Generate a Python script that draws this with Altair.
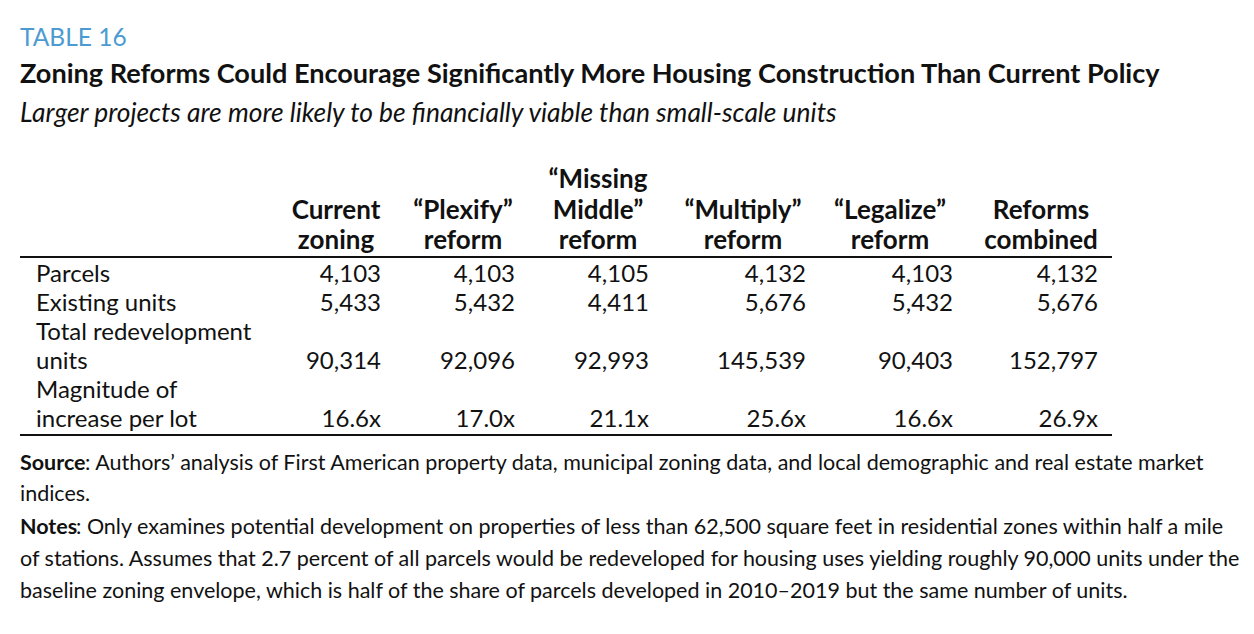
import altair as alt
import pandas as pd

# ---------------- data ----------------
col_headers = [
    ["Current", "zoning"],
    ["“Plexify”", "reform"],
    ["“Missing", "Middle”", "reform"],
    ["“Multiply”", "reform"],
    ["“Legalize”", "reform"],
    ["Reforms", "combined"],
]
row_labels = [
    ["Parcels"],
    ["Existing units"],
    ["Total redevelopment", "units"],
    ["Magnitude of", "increase per lot"],
]
parcels = [4103, 4103, 4105, 4132, 4103, 4132]
existing_units = [5433, 5432, 4411, 5676, 5432, 5676]
total_redevelopment = [90314, 92096, 92993, 145539, 90403, 152797]
magnitude = [16.6, 17.0, 21.1, 25.6, 16.6, 26.9]

table_label = "TABLE 16"
title = "Zoning Reforms Could Encourage Significantly More Housing Construction Than Current Policy"
subtitle = "Larger projects are more likely to be financially viable than small-scale units"
source_head = "Source"
source_lines = [
    ": Authors’ analysis of First American property data, municipal zoning data, and local demographic and real estate market",
    "indices.",
]
notes_head = "Notes"
notes_lines = [
    ": Only examines potential development on properties of less than 62,500 square feet in residential zones within half a mile",
    "of stations. Assumes that 2.7 percent of all parcels would be redeveloped for housing uses yielding roughly 90,000 units under the",
    "baseline zoning envelope, which is half of the share of parcels developed in 2010–2019 but the same number of units.",
]

# ---------------- layout (page pixel coordinates) ----------------
W, H = 1236, 616
FONT = "Lato"
col_right = [381, 515, 649, 806, 953, 1098]
col_center = [336, 463, 598, 743, 890, 1041]
header_last_base = 249
header_step = 30.5
row_base = [282, 311, 340, 369, 398, 427]
row_label_x = 36
table_left, table_right = 20, 1112
rule_top_y, rule_bottom_y = 257, 435
foot_base = [470, 501, 534, 566, 598]

xs = alt.Scale(domain=[8, 8 + W], range=[0, W])
ys = alt.Scale(domain=[8, 8 + H], reverse=True)

def X(field="x"):
    return alt.X(f"{field}:Q", scale=xs, axis=None)

def Y(field="y"):
    return alt.Y(f"{field}:Q", scale=ys, axis=None)

# header rows
hdr = []
for i, lines in enumerate(col_headers):
    n = len(lines)
    for j, t in enumerate(lines):
        hdr.append({"t": t, "x": col_center[i], "y": header_last_base - (n - 1 - j) * header_step})
hdr = pd.DataFrame(hdr)

# row labels
lab = []
k = 0
value_rows = []
for lines in row_labels:
    for t in lines:
        lab.append({"t": t, "x": row_label_x, "y": row_base[k]})
        k += 1
    value_rows.append(row_base[k - 1])
lab = pd.DataFrame(lab)

# cells
series = [
    [f"{v:,}" for v in parcels],
    [f"{v:,}" for v in existing_units],
    [f"{v:,}" for v in total_redevelopment],
    [f"{v:.1f}x" for v in magnitude],
]
cells = []
for r, vals in enumerate(series):
    for c, s in enumerate(vals):
        cells.append({"t": s, "x": col_right[c], "y": value_rows[r]})
cells = pd.DataFrame(cells)

rules = pd.DataFrame({"x": [table_left, table_left], "x2": [table_right, table_right],
                      "y": [rule_top_y, rule_bottom_y]})

def text_layer(df, size, weight="normal", style="normal", align="left", color="#111111"):
    return alt.Chart(df).mark_text(
        font=FONT, fontSize=size, fontWeight=weight, fontStyle=style,
        align=align, baseline="alphabetic", color=color,
    ).encode(x=X(), y=Y(), text="t:N")

def one(t, x, y, **kw):
    return text_layer(pd.DataFrame([{"t": t, "x": x, "y": y}]), **kw)

FS = 21.5
layers = [
    one(table_label, 20, 46, size=24.5, color="#4b9bd2"),
    one(title, 20, 83, size=27.1, weight="bold", color="#111111"),
    one(subtitle, 20, 122, size=26.4, style="italic", color="#111111"),
    text_layer(hdr, 26, weight="bold", align="center"),
    text_layer(lab, 24),
    text_layer(cells, 24, align="right"),
    alt.Chart(rules).mark_rule(color="#111111", strokeWidth=2.2).encode(
        x=X(), x2="x2:Q", y=Y()),
    one(source_head, 20, foot_base[0], size=FS, weight="bold"),
    one(source_lines[0], 85, foot_base[0], size=FS),
    one(source_lines[1], 20, foot_base[1], size=FS),
    one(notes_head, 20, foot_base[2], size=FS, weight="bold"),
    one(notes_lines[0], 76, foot_base[2], size=FS),
    one(notes_lines[1], 20, foot_base[3], size=FS),
    one(notes_lines[2], 20, foot_base[4], size=FS),
]

chart = alt.layer(*layers).properties(
    width=W, height=H, padding=0,
    autosize=alt.AutoSizeParams(type="none"),
    background="white",
).configure_view(strokeWidth=0)

chart.save("out.html", embed_options={"renderer": "svg", "actions": False})
